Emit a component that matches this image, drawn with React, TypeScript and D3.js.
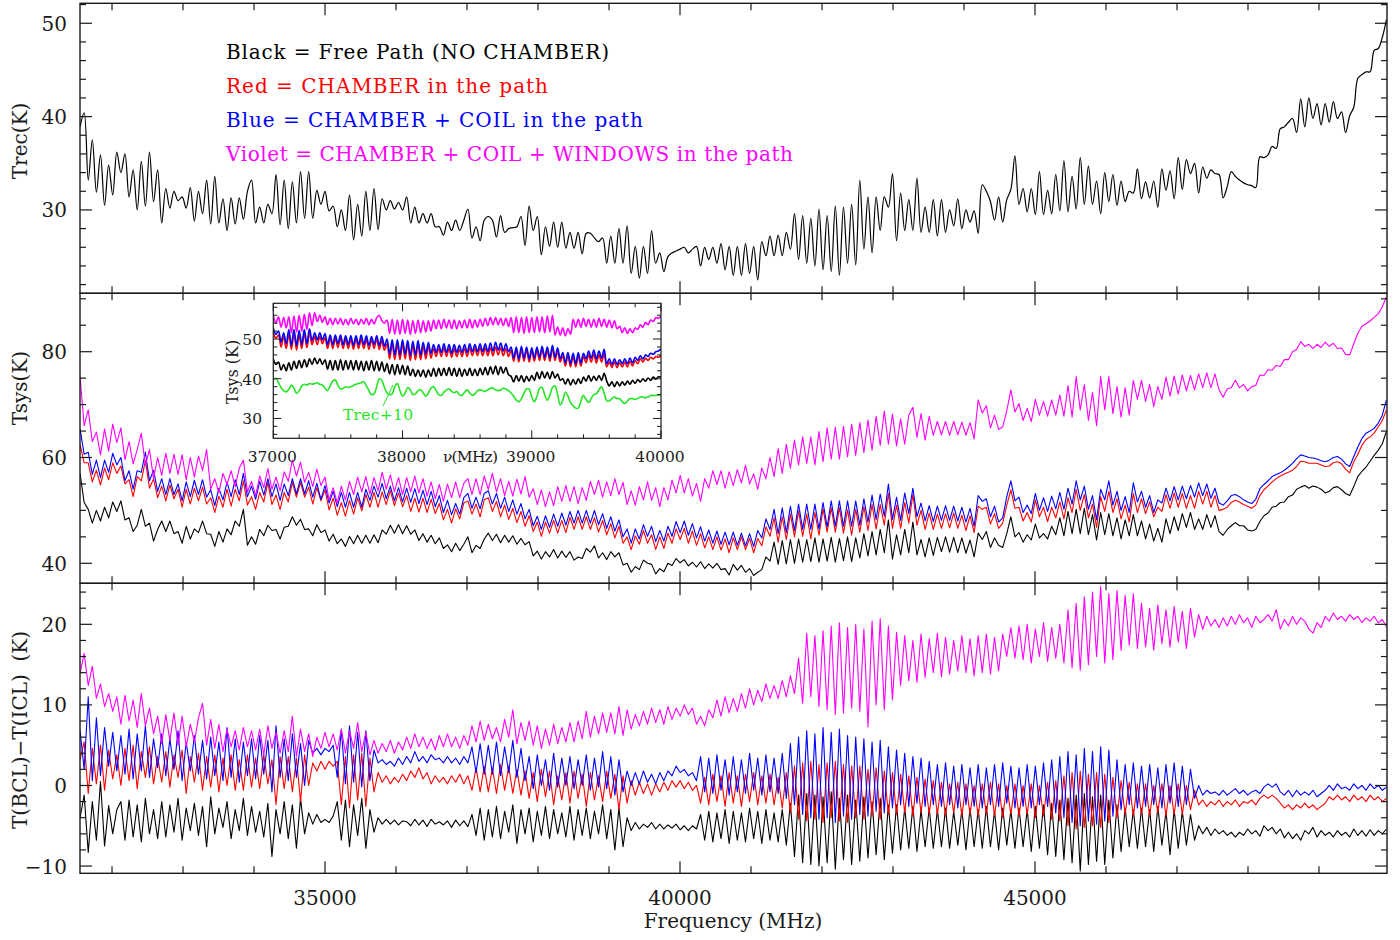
import React from "react";
import * as d3 from "d3";

// Main traces share one frequency grid (MHz)
const MAIN_START = 31550;
const MAIN_STEP = 57.5;
// Zoomed inset grid (MHz)
const INSET_START = 37000;
const INSET_STEP = 20;
// Every temperature below is stored in units of 0.1 K
const UNIT = 0.1;

// Receiver temperature, free path (top panel)
const trecFree = [
  389,404,332,375,319,359,305,348,316,362,340,360,314,343,300,352,304,362,309,343,
  286,323,302,320,310,314,302,324,288,320,296,332,285,336,286,312,278,313,285,313,
  290,320,332,286,303,286,306,296,338,284,332,280,330,286,341,291,341,291,321,306,
  320,299,304,282,300,278,316,268,306,272,320,278,323,279,312,300,310,301,308,300,
  314,286,303,286,296,286,296,282,
  282,273,287,278,289,278,289,301,270,282,
  267,289,293,289,271,294,276,280,281,282,293,
  262,304,278,293,252,282,261,287,260,287,
  259,276,259,276,253,275,275,270,266,270,243,
  272,243,280,243,283,232,261,227,261,232,
  278,243,254,234,250,254,256,258,260,254,258,
  261,240,260,247,260,243,264,236,261,230,
  261,230,264,232,261,225,266,251,272,251,
  273,251,276,258,296,247,294,243,291,240,
  301,236,294,234,304,230,303,243,306,241,
  332,258,314,254,314,278,314,303,339,267,
  318,278,311,278,334,276,
  303,276,311,272,311,276,300,283,312,280,
  300,287,299,275,327,320,309,289,314,287,
  311,322,358,306,323,298,323,295,341,295,
  321,296,338,299,353,298,336,301,356,306,
  347,306,331,296,340,309,338,305,331,309,
  320,318,344,312,330,313,331,303,344,321,
  342,312,356,322,354,339,350,318,346,334,
  343,339,338,313,325,341,336,332,329,327,326,324,
  357,356,359,368,366,387,389,394,398,383,419,
  389,420,398,414,391,414,394,416,398,405,
  383,401,410,441,445,448,448,471,473,485,
  504,
];

// System temperature (middle panel)
const tsysFree = [
  570,515,502,476,500,480,506,486,516,498, 518,482,486,460,472,502,470,476,442,464,
  480,460,480,456,460,438,470,446,465,458, 480,456,455,432,460,440,465,454,480,470,
  502,434,450,436,464,452,472,462,464,446, 468,470,488,472,483,464,465,452,473,458,
  463,442,455,437,446,432,451,437,453,438, 453,438,454,439,463,455,472,457,473,456,
  471,455,463,443,456,440,453,437,448,428, 435,422,438,424,436,450,420,434,428,446,
  457,443,455,439,453,440,452,436,447,435, 441,414,423,408,422,412,426,410,423,411,
  422,406,412,409,428,421,433,410,420,407, 422,412,420,397,400,383,394,388,406,400,
  398,380,390,384,400,396,409,401,407,395, 402,393,403,390,399,391,400,388,390,378,
  398,387,396,383,390,377,383,388,412,404, 440,398,443,399,445,400,446,402,445,403,
  448,402,446,404,449,402,447,405,450,403, 448,410,456,414,460,416,464,420,482,408,
  454,416,464,420,478,416,445,412,448,415, 449,422,450,421,449,420,448,419,444,412,
  457,445,460,430,448,434,430,456,488,450, 458,440,454,444,474,448,456,446,470,454,
  486,452,498,456,502,456,504,454,492,444, 496,454,494,452,486,446,482,452,492,452,
  480,446,474,442,466,440,484,456,488,462, 494,468,496,464,484,464,492,468,490,460,
  453,464,471,477,471,471,463,461,464,479, 490,495,506,508,515,516,526,529,540,544,
  547,542,546,544,540,533,536,543,545,539, 532,528,545,564,574,582,593,604,614,626,650,
];
const tsysChamber = [
  625,590,590,554,576,548,580,558,590,570, 584,550,558,526,564,556,594,542,560,524,
  546,518,548,522,540,506,540,512,542,518, 544,512,524,496,527,506,540,508,540,518,
  556,510,526,502,534,516,553,511,529,502, 534,516,553,525,553,525,544,512,543,518,
  539,501,523,491,515,489,519,493,524,499, 530,506,534,506,535,511,538,509,533,507,
  528,498,523,497,523,496,521,494,513,482, 502,476,503,484,514,518,493,512,488,520,
  524,498,517,488,510,483,504,477,498,470, 490,460,478,451,478,457,481,457,481,458,
  487,464,488,464,488,464,486,459,481,454, 475,448,470,438,450,426,452,436,462,438,
  454,426,450,428,457,438,465,445,466,438, 461,434,456,429,450,426,450,425,446,420,
  448,426,450,426,447,420,447,433,469,451, 486,440,488,445,493,450,499,451,493,446,
  496,453,503,459,505,459,505,457,501,453, 502,459,507,462,511,465,511,472,532,466,
  510,466,515,476,530,472,500,464,495,464, 493,466,494,467,495,466,491,462,490,458,
  508,502,506,474,494,466,476,510,539,504, 506,480,496,478,520,488,506,479,506,486,
  516,484,524,496,540,500,530,486,512,468, 526,498,536,496,522,484,510,478,532,496,
  522,494,516,488,506,498,530,504,533,506, 532,504,528,504,536,512,536,506,528,500,
  502,506,515,519,516,511,508,504,510,528, 539,546,554,560,565,569,572,576,583,593,
  592,589,589,589,586,583,584,590,592,588, 578,571,592,606,623,634,639,646,658,670,690,
];
const tsysCoil = [
  654,606,610,568,595,562,595,572,608,586, 600,556,575,540,575,572,610,556,576,536,
  560,530,560,530,550,518,554,526,557,530, 558,525,539,509,542,520,554,526,558,530,
  570,526,546,521,555,529,560,526,550,519, 550,528,560,531,560,531,556,525,551,521,
  547,514,536,507,534,506,534,506,534,506, 540,519,546,525,551,522,546,518,543,516,
  542,515,541,513,538,511,536,507,528,496, 519,492,513,493,524,532,504,525,503,532,
  537,512,532,504,525,498,520,493,513,484, 502,471,489,464,490,468,493,470,495,472,
  498,476,500,476,500,476,500,473,494,466, 488,461,482,450,465,438,465,446,473,451,
  470,441,462,442,470,451,479,458,480,453, 475,448,469,442,463,438,461,436,459,435,
  459,434,457,433,456,432,462,448,484,464, 502,456,505,458,508,462,512,464,512,464,
  512,465,515,469,518,470,518,470,518,470, 518,472,522,478,529,483,531,489,550,483,
  525,481,533,494,542,488,514,480,509,479, 508,481,509,481,508,480,506,478,504,470,
  528,517,522,488,508,478,486,526,556,518, 525,496,510,494,532,500,524,498,527,503,
  534,502,542,512,556,520,546,502,528,482, 540,520,556,510,536,500,526,496,552,516,
  536,506,528,496,520,514,542,518,545,520, 546,522,547,525,552,528,550,523,542,514,
  510,518,528,530,526,520,516,513,521,541, 549,556,564,568,571,576,582,589,598,605,
  603,600,599,597,594,592,595,600,602,597, 588,583,602,620,636,646,650,655,665,680,709,
];
const tsysWindows = [
  753,660,690,630,648,605,654,612,663,628, 656,596,630,588,615,646,585,615,560,600,
  566,608,570,606,568,605,558,600,563,603, 575,615,540,560,533,570,549,575,545,580,
  595,535,555,528,565,543,579,540,563,537, 573,555,595,565,591,553,572,545,578,547,
  563,520,543,514,546,520,555,530,563,535, 564,531,562,537,572,540,567,535,562,530,
  562,535,565,533,560,527,554,522,549,517, 550,524,554,524,551,560,530,560,530,565,
  540,570,535,560,528,555,527,559,531,564, 525,541,511,539,507,535,509,545,517,547,
  517,545,513,543,519,555,530,557,525,554, 528,560,530,553,511,537,510,545,520,554,
  519,543,507,543,520,557,533,566,533,560, 527,551,517,560,542,575,549,575,542,573,
  547,577,552,585,550,569,540,580,560,600, 564,617,570,625,580,633,586,639,589,639,
  586,649,592,656,597,657,597,659,601,663, 604,666,609,671,614,678,623,688,625,682,
  622,673,625,680,695,638,683,633,678,642, 668,643,668,642,668,643,667,642,666,635,
  709,684,698,656,680,653,658,688,728,686, 702,670,693,668,710,680,706,678,709,680,
  718,678,736,676,753,690,738,670,723,660, 753,690,753,683,734,676,732,680,746,710,
  746,706,738,696,734,710,752,716,754,720, 756,726,755,728,758,732,760,732,758,728,
  714,730,732,746,732,738,726,734,736,756, 755,766,765,774,772,785,785,800,804,819,
  810,814,806,814,808,818,810,816,806,807, 795,794,815,835,848,853,858,865,872,885,904,
];

// T(BCL) - T(ICL) (bottom panel)
const diffFree = [
  -40,-12,-83,-20,-68,5,-75,-25,-60,-30, -20,-68,-18,-64,-24,-70,-16,-60,-30,-66,
  -20,-64,-24,-58,-16,-68,-28,-56,-22,-62, -26,-76,-14,-60,-28,-52,-20,-66,-30,-56,
  -16,-62,-26,-58,-32,-64,-22,-88,-30,-60, -20,-66,-24,-78,-16,-60,-34,-48,-36,-46,
  -42,-46,-38,-20,-68,-18,-76,-24,-62,-16, -78,-30,-58,-40,-48,-42,-48,-43,-49,-44,
  -45,-50,-42,-49,-43,-51,-42,-48,-45,-49, -44,-52,-43,-50,-44,-51,-36,-62,-28,-68,
  -30,-64,-26,-66,-32,-58,-24,-72,-30,-60, -28,-70,-32,-62,-26,-66,-30,-60,-34,-64,
  -26,-68,-30,-62,-28,-66,-32,-60,-24,-66, -30,-80,-28,-76,-40,-56,-46,-54,-48,-52,
  -46,-54,-48,-54,-49,-53,-48,-55,-50,-56, -50,-54,-36,-68,-32,-70,-34,-66,-30,-72,
  -32,-68,-34,-70,-28,-66,-32,-72,-30,-68, -34,-70,-30,-74,-22,-88,-12,-96,-10,-98,
  -12,-100,-14,-96,-8,-104,-16,-92,-12,-98, -18,-94,-14,-90,-20,-86,-16,-92,-24,-84,
  -24,-80,-28,-78,-26,-82,-30,-76,-28,-78, -30,-76,-28,-78,-32,-74,-30,-80,-28,-76,
  -30,-78,-26,-76,-32,-80,-28,-74,-30,-78, -28,-76,-30,-82,-26,-78,-24,-86,-22,-88,
  -18,-92,-16,-96,-12,-106,-10,-98,-14,-94, -12,-98,-18,-90,-24,-82,-28,-76,-30,-78,
  -28,-76,-30,-82,-26,-74,-32,-86,-30,-78, -32,-74,-36,-68,-50,-60,-52,-62,-54,-60,
  -56,-62,-58,-64,-58,-62,-54,-60,-56,-63, -50,-56,-52,-60,-54,-65,-58,-66,-60,-68,
  -56,-60,-52,-64,-56,-62,-58,-64,-56,-62, -58,-64,-54,-62,-56,-63,-55,-62,-56,-60,-54,
];
const diffChamber = [
  32,54,-10,46,2,50,-6,44,8,38, 0,46,6,50,-4,42,10,48,2,36,
  4,42,-2,38,10,44,-10,36,4,40, -6,36,-2,38,-8,34,0,38,-6,32,
  -6,38,-2,34,-4,38,2,32,-24,36, -4,36,-8,34,-20,38,0,28,18,30,
  20,30,24,30,-24,36,-28,38,-18,40, -26,34,-8,16,4,12,2,10,4,14,
  6,18,10,22,8,16,2,12,4,10, 2,12,4,14,2,12,-6,22,-8,24,
  -8,22,-10,26,-6,24,-10,20,-12,18, -16,16,-20,20,-14,18,-24,12,-18,16,
  -22,18,-16,14,-26,16,-18,12,-20,18, -16,14,-30,12,-22,6,-12,4,-10,2,
  -12,2,-8,4,-6,6,-2,6,-4,4, -6,0,-22,10,-24,14,-20,12,-26,16,
  -22,12,-26,14,-20,16,-24,12,-22,14, -24,10,-28,16,-34,24,-42,28,-44,30,
  -42,26,-46,28,-40,30,-44,26,-46,24, -40,24,-42,20,-38,22,-42,18,-36,16,
  -36,14,-34,12,-38,10,-34,8,-36,6, -36,4,-38,2,-34,4,-38,2,-36,0,
  -38,2,-36,4,-38,2,-40,0,-36,2, -38,0,-36,2,-40,0,-38,4,-42,6,
  -44,12,-50,16,-54,18,-52,14,-50,16, -52,14,-46,10,-40,6,-36,4,-38,2,
  -36,2,-38,0,-34,2,-38,0,-36,2, -36,0,-30,-6,-24,-18,-26,-20,-24,-18,
  -26,-20,-24,-18,-26,-20,-22,-18,-24,-16, -12,-16,-12,-16,-22,-28,-24,-30,-24,-28,
  -22,-28,-24,-30,-26,-22,-14,-18,-12,-18, -14,-20,-12,-18,-14,-20,-12,-18,-14,-20,-16,
];
const diffCoil = [
  68,20,110,6,84,12,72,24,66,18, 62,14,70,8,64,18,74,10,58,22,
  64,12,58,20,68,6,54,18,62,14, 56,8,60,12,54,6,72,10,58,4,
  54,12,58,8,62,14,56,-8,74,10, 58,6,64,10,52,0,56,40,46,38,
  46,42,50,10,70,2,74,4,66,-2, 68,6,44,28,32,26,30,24,34,26,
  36,28,42,30,36,28,38,32,34,28, 36,28,34,26,36,28,48,16,52,14,
  50,14,54,12,48,16,56,10,46,6, 36,-4,38,0,32,-6,40,-2,34,0,
  36,-4,32,0,38,-6,34,-2,42,-4, 36,-12,32,-8,18,0,16,2,18,4,
  14,2,16,6,18,12,24,16,20,12, 16,6,36,-8,34,-10,38,-6,32,-12,
  36,-8,32,-10,40,-6,34,-12,38,-8, 34,-10,40,-16,52,-24,60,-36,68,-40,
  64,-42,72,-40,66,-46,70,-38,62,-42, 60,-36,58,-38,54,-32,56,-34,48,-28,
  44,-24,40,-26,36,-22,34,-26,30,-24, 26,-26,28,-24,24,-28,26,-24,22,-26,
  26,-28,22,-24,26,-26,28,-22,24,-28, 22,-26,26,-28,24,-24,28,-26,32,-34,
  36,-40,42,-46,38,-50,46,-44,42,-48, 48,-44,44,-38,32,-30,26,-24,28,-28,
  24,-26,26,-24,22,-28,26,-22,28,-26, 24,-24,20,-16,0,-12,-6,-10,-8,-12,
  -6,-12,-8,-4,-10,-6,-12,-8,-6,-10, -2,2,-2,2,-8,-12,-6,-14,-6,-12,
  -8,-12,-6,-14,-10,-6,0,-6,2,-4, -2,-6,2,-4,0,-6,2,-4,0,-6,-2,
];
const diffWindows = [
  139,164,124,148,108,126,98,114,92,110, 76,112,80,106,72,114,74,96,64,86,
  52,88,56,90,50,86,48,76,54,84, 102,50,82,46,76,42,70,48,68,44,
  72,48,68,44,70,38,74,46,66,40, 68,42,86,36,70,42,64,36,60,46,
  66,48,64,44,70,40,68,46,78,42, 66,38,56,40,52,42,56,40,54,44,
  60,46,64,48,60,46,58,44,62,48, 64,48,60,46,62,50,74,54,80,56,
  76,58,72,54,82,60,94,52,78,56, 80,50,74,46,70,50,76,52,72,54,
  78,54,80,58,92,60,86,64,90,66, 90,64,98,62,94,70,88,74,92,76,
  96,78,94,76,98,82,96,86,100,88, 96,76,86,74,94,84,106,86,110,90,
  108,92,114,96,120,100,118,104,126,108, 124,108,130,110,136,114,158,102,189,110,
  186,98,192,94,198,88,202,90,196,96, 200,92,194,73,204,100,207,94,198,106,
  190,124,186,130,180,128,188,134,182,140, 189,135,184,138,180,142,186,140,182,136,
  186,140,188,138,184,142,188,160,196,158, 198,156,200,152,194,160,202,154,196,158,
  200,152,218,146,226,143,234,150,240,160, 247,152,238,156,242,168,236,174,238,170,
  226,172,220,168,224,176,218,172,222,178, 216,170,220,184,212,194,210,198,206,196,
  208,198,210,200,212,202,208,196,210,202, 206,212,204,218,194,206,198,210,200,208,
  204,194,189,202,196,210,204,214,206,210, 204,212,206,210,202,208,204,210,202,206,197,
];

// Inset: Tsys between 37 and 40 GHz, plus Trec shifted by +10 K
const insetWindows = [
  560,540,556,530,554,528, 556,516,558,518,560,520,562,524,566,534,
  566,544,560,542,556,
  536,552,536,552,538,552,536,550,536,552,538,550,536,550,538,552,536,550,
  538,554,560,546,540,
  548,514,550,512,548,512,550,514,548,512,546,514,548,516,546,518,546,520,
  548,526,548,526,550,528,548,526,548,526,546,528,548,528,550,528,548,530,550,532,552,534,
  554,536,554,536,552,534,552,532,
  554,516,556,516,554,514,556,516,554,516,556,518,556,516,558,518,560,
  510,530,510,528,508,526,512,
  550,530,550,530,552,532,550,530,550,530,552,532,550,530,548,528,546,526,
  532,516,528,514,526,516,528,
  524,536,530,542,536,548,544,554,552,558,
];
const insetCoil = [
  528,512,520,492,516,488, 524,484,524,484,522,486,524,488,526,496,
  516,498,516,498,514,
  486,510,486,510,488,510,486,508,486,508,484,508,486,510,486,508,484,506,486,508,484,506,482,
  500,462,498,460,498,460,498,462,496,458,494,460,496,460,492,462,492,464,
  486,466,486,466,488,466,486,464,486,466,484,466,486,466,488,468,486,468,488,468,488,468,
  490,470,492,472,490,470,488,468,
  480,452,480,450,482,452,480,450,478,452,480,454,482,454,480,452,484,454,478,450,
  466,440,466,438,464,438,466,440,464,
  450,470,452,472,450,470,452,474,
  438,450,436,450,436,448,438,450,438,452,440,
  454,446,458,450,460,456,464,462,468,470,475,
];
const insetChamber = [
  518,502,510,480,506,476, 512,474,514,472,510,476,514,478,516,486,
  506,486,506,488,504,
  476,502,476,502,478,502,476,500,476,500,474,500,476,500,476,498,474,498,476,500,474,496,472,
  488,450,488,448,486,448,488,450,486,446,484,448,486,448,482,450,482,452,
  476,456,476,456,478,456,476,454,476,456,474,456,476,456,478,458,476,458,478,458,478,458,
  478,458,480,460,478,458,476,456,
  472,444,472,442,474,444,472,442,470,444,472,446,474,446,472,444,476,446,470,442,
  458,432,458,430,456,430,458,432,456,
  440,460,442,462,440,460,442,464,
  430,442,428,442,428,440,430,442,430,444,432,
  446,438,450,442,452,446,454,450,456,454,459,
];
const insetFree = [
  450,436,442,422,436,420, 440,422,444,426,446,428,448,430,450,436,
  452,438,450,436,448,
  424,446,422,446,422,448,422,446,424,446,
  422,446,422,444,420,444,422,446,420,444,420,442,418,
  438,412,436,410,436,412,434,410,432,408,
  424,406,422,406,422,404,422,406,
  426,406,426,408,426,408,428,408,426,406,426,406,424,408,426,408,424,408,426,410,428,410,
  430,412,432,410,430,414,428,410,
  406,392,408,394,408,392,406,394,408,396,
  416,400,418,402,416,400,418,402,412,396,
  400,386,400,384,398,386,400,388,404,
  394,408,394,406,396,408,396,414,
  394,382,392,380,392,382,392,384,394,386,396,
  388,398,392,400,394,402,396,404,399,405,404,
];
const insetTrecPlus10 = [
  397,401,390,378,370,367,373,384,376,363, 370,382,386,384,388,386,388,390,386,384,
  376,370,382,394,397,384,374,376,379,378, 380,383,386,388,390,393,382,370,360,362,
  380,400,396,378,364,360,362,380,388,370, 356,364,378,372,360,362,370,372,364,356,
  364,376,380,370,360,358,366,372,374,368, 365,368,360,358,366,372,364,358,362,370,
  372,370,368,372,376,376,372,370,372,376, 374,370,364,356,346,342,350,364,374,374,
  354,342,356,376,378,360,346,358,378,382, 360,334,346,366,356,340,332,326,326,344,
  358,348,340,350,360,362,372,380,364,344, 344,350,354,350,350,342,338,344,350,350,
  348,350,354,354,352,354,358,358,358,359, 360,
];

const legendLines = [
  { text: "Black = Free Path (NO CHAMBER)", color: "#000000", width: 383 },
  { text: "Red = CHAMBER in the path", color: "#ff0000", width: 322 },
  { text: "Blue = CHAMBER + COIL in the path", color: "#0000ff", width: 417 },
  { text: "Violet = CHAMBER + COIL + WINDOWS in the path", color: "#ff00ff", width: 567 },
];

const xTickLabels = [35000, 40000, 45000];
const insetXTickLabels = [37000, 38000, 39000, 40000];
const insetYTickLabels = [30, 40, 50];

const FONT = "'DejaVu Serif', serif";
const INK = "#1a1a1a";

const X_LEFT = 80;
const X_RIGHT = 1387;
const x = d3.scaleLinear().domain([31549, 49958]).range([X_LEFT, X_RIGHT]);

type Series = { values: number[]; color: string; width: number };
type Panel = {
  key: string;
  top: number;
  bottom: number;
  domain: [number, number];
  minor: number;
  major: number;
  labels: number[];
  title: string;
  titleY: number;
  smooth: boolean;
  series: Series[];
};

const panels: Panel[] = [
  {
    key: "trec",
    top: 3.3,
    bottom: 293.3,
    domain: [21.07, 52.14],
    minor: 2,
    major: 10,
    labels: [30, 40, 50],
    title: "Trec(K)",
    titleY: 141,
    smooth: true,
    series: [{ values: trecFree, color: "#000000", width: 1.2 }],
  },
  {
    key: "tsys",
    top: 293.3,
    bottom: 583.3,
    domain: [36.22, 91.04],
    minor: 5,
    major: 20,
    labels: [40, 60, 80],
    title: "Tsys(K)",
    titleY: 388,
    smooth: false,
    series: [
      { values: tsysFree, color: "#000000", width: 1.1 },
      { values: tsysChamber, color: "#ff0000", width: 1.1 },
      { values: tsysCoil, color: "#0000ff", width: 1.1 },
      { values: tsysWindows, color: "#ff00ff", width: 1.1 },
    ],
  },
  {
    key: "diff",
    top: 583.3,
    bottom: 873.3,
    domain: [-10.9, 25.09],
    minor: 2,
    major: 10,
    labels: [-10, 0, 10, 20],
    title: "T(BCL)\u2212T(ICL)  (K)",
    titleY: 730,
    smooth: false,
    series: [
      { values: diffFree, color: "#000000", width: 1.1 },
      { values: diffChamber, color: "#ff0000", width: 1.1 },
      { values: diffCoil, color: "#0000ff", width: 1.1 },
      { values: diffWindows, color: "#ff00ff", width: 1.1 },
    ],
  },
];

const fmt = (v: number) => (v < 0 ? "\u2212" + Math.abs(v) : String(v));

function tracePath(
  values: number[],
  start: number,
  step: number,
  xs: d3.ScaleLinear<number, number>,
  ys: d3.ScaleLinear<number, number>,
  smooth: boolean
) {
  const gen = d3
    .line<number>()
    .x((_, i) => xs(start + i * step))
    .y((v) => ys(v * UNIT));
  if (smooth) gen.curve(d3.curveCatmullRom.alpha(0.5));
  return gen(values) || "";
}

function PanelView({ p, showXLabels }: { p: Panel; showXLabels: boolean }) {
  const y = d3.scaleLinear().domain(p.domain).range([p.bottom, p.top]);
  const yTicks = d3.range(Math.ceil(p.domain[0] / p.minor) * p.minor, p.domain[1] + 1e-9, p.minor);
  const xTicks = d3.range(32000, 50000, 1000);
  const clipId = `clip-${p.key}`;
  return (
    <g>
      <defs>
        <clipPath id={clipId}>
          <rect x={X_LEFT} y={p.top} width={X_RIGHT - X_LEFT} height={p.bottom - p.top} />
        </clipPath>
      </defs>
      <g clipPath={`url(#${clipId})`} fill="none" strokeLinejoin="round">
        {p.series.map((s, i) => (
          <path
            key={i}
            d={tracePath(s.values, MAIN_START, MAIN_STEP, x, y, p.smooth)}
            stroke={s.color}
            strokeWidth={s.width}
          />
        ))}
      </g>
      <rect
        x={X_LEFT}
        y={p.top}
        width={X_RIGHT - X_LEFT}
        height={p.bottom - p.top}
        fill="none"
        stroke={INK}
        strokeWidth={1.4}
      />
      {yTicks.map((v) => {
        const major = Math.abs(v % p.major) < 1e-6;
        const len = major ? 12 : 6;
        const yy = y(v);
        return (
          <g key={`y${v}`} stroke={INK} strokeWidth={1.2}>
            <line x1={X_LEFT} x2={X_LEFT + len} y1={yy} y2={yy} />
            <line x1={X_RIGHT} x2={X_RIGHT - len} y1={yy} y2={yy} />
          </g>
        );
      })}
      {xTicks.map((f) => {
        const major = f % 5000 === 0;
        const len = major ? 12 : 7;
        const xx = x(f);
        return (
          <g key={`x${f}`} stroke={INK} strokeWidth={1.2}>
            <line x1={xx} x2={xx} y1={p.top} y2={p.top + len} />
            <line x1={xx} x2={xx} y1={p.bottom} y2={p.bottom - len} />
          </g>
        );
      })}
      {p.labels.map((v) => (
        <text
          key={`l${v}`}
          x={67}
          y={y(v) + 7.5}
          textAnchor="end"
          fontFamily={FONT}
          fontSize={20}
          fill={INK}
        >
          {fmt(v)}
        </text>
      ))}
      <text
        transform={`translate(27, ${p.titleY}) rotate(-90)`}
        textAnchor="middle"
        fontFamily={FONT}
        fontSize={20}
        fill={INK}
        style={{ whiteSpace: "pre" }}
      >
        {p.title}
      </text>
      {showXLabels &&
        xTickLabels.map((f) => (
          <text
            key={`xl${f}`}
            x={x(f)}
            y={905}
            textAnchor="middle"
            fontFamily={FONT}
            fontSize={20}
            fill={INK}
          >
            {f}
          </text>
        ))}
    </g>
  );
}

function Inset() {
  const L = 273.3;
  const R = 661;
  const T = 303.3;
  const B = 438.3;
  const xi = d3.scaleLinear().domain([37000, 40000]).range([L, R]);
  const yi = d3.scaleLinear().domain([25, 59]).range([B, T]);
  const xt = d3.range(37000, 40001, 200);
  const yt = d3.range(26, 59, 2);
  const series = [
    { values: insetTrecPlus10, color: "#22e622" },
    { values: insetFree, color: "#000000" },
    { values: insetChamber, color: "#ff0000" },
    { values: insetCoil, color: "#0000ff" },
    { values: insetWindows, color: "#ff00ff" },
  ];
  return (
    <g>
      <defs>
        <clipPath id="clip-inset">
          <rect x={L} y={T} width={R - L} height={B - T} />
        </clipPath>
      </defs>
      <g clipPath="url(#clip-inset)" fill="none" strokeLinejoin="round">
        {series.map((s, i) => (
          <path
            key={i}
            d={tracePath(s.values, INSET_START, INSET_STEP, xi, yi, true)}
            stroke={s.color}
            strokeWidth={1.6}
          />
        ))}
      </g>
      <rect x={L} y={T} width={R - L} height={B - T} fill="none" stroke={INK} strokeWidth={1.2} />
      {xt.map((f) => {
        const len = f % 1000 === 0 ? 8 : 4;
        const xx = xi(f);
        return (
          <g key={`ix${f}`} stroke={INK} strokeWidth={1}>
            <line x1={xx} x2={xx} y1={B} y2={B - len} />
            <line x1={xx} x2={xx} y1={T} y2={T + len} />
          </g>
        );
      })}
      {yt.map((v) => {
        const len = v % 10 === 0 ? 8 : 4;
        const yy = yi(v);
        return (
          <g key={`iy${v}`} stroke={INK} strokeWidth={1}>
            <line x1={L} x2={L + len} y1={yy} y2={yy} />
            <line x1={R} x2={R - len} y1={yy} y2={yy} />
          </g>
        );
      })}
      {insetXTickLabels.map((f) => (
        <text
          key={`ixl${f}`}
          x={xi(f) - 1}
          y={461.7}
          textAnchor="middle"
          fontFamily={FONT}
          fontSize={15.5}
          fill={INK}
        >
          {f}
        </text>
      ))}
      <text x={443} y={461.7} fontFamily={FONT} fontSize={15.5} fill={INK} textLength={55}>
        {"\u03bd(MHz)"}
      </text>
      {insetYTickLabels.map((v) => (
        <text
          key={`iyl${v}`}
          x={262}
          y={yi(v) + 5.8}
          textAnchor="end"
          fontFamily={FONT}
          fontSize={15.5}
          fill={INK}
        >
          {v}
        </text>
      ))}
      <text
        transform="translate(238, 372) rotate(-90)"
        textAnchor="middle"
        fontFamily={FONT}
        fontSize={16}
        fill={INK}
      >
        Tsys (K)
      </text>
      <line x1={383} y1={406} x2={393} y2={385} stroke="#22e622" strokeWidth={1} />
      <text x={343} y={420} fontFamily={FONT} fontSize={15.5} fill="#22e622" textLength={70}>
        Trec+10
      </text>
    </g>
  );
}

export default function App() {
  return (
    <svg
      width={1400}
      height={940}
      viewBox="0 0 1400 940"
      style={{ position: "absolute", left: 0, top: 0, background: "#ffffff" }}
    >
      <rect x={0} y={0} width={1400} height={940} fill="#ffffff" />
      {panels.map((p, i) => (
        <PanelView key={p.key} p={p} showXLabels={i === panels.length - 1} />
      ))}
      <Inset />
      {legendLines.map((l, i) => (
        <text
          key={i}
          x={226}
          y={58.5 + i * 34}
          fontFamily={FONT}
          fontSize={20}
          fill={l.color}
          textLength={l.width}
          lengthAdjust="spacing"
        >
          {l.text}
        </text>
      ))}
      <text
        x={733}
        y={928}
        textAnchor="middle"
        fontFamily={FONT}
        fontSize={20}
        fill={INK}
      >
        Frequency (MHz)
      </text>
    </svg>
  );
}
